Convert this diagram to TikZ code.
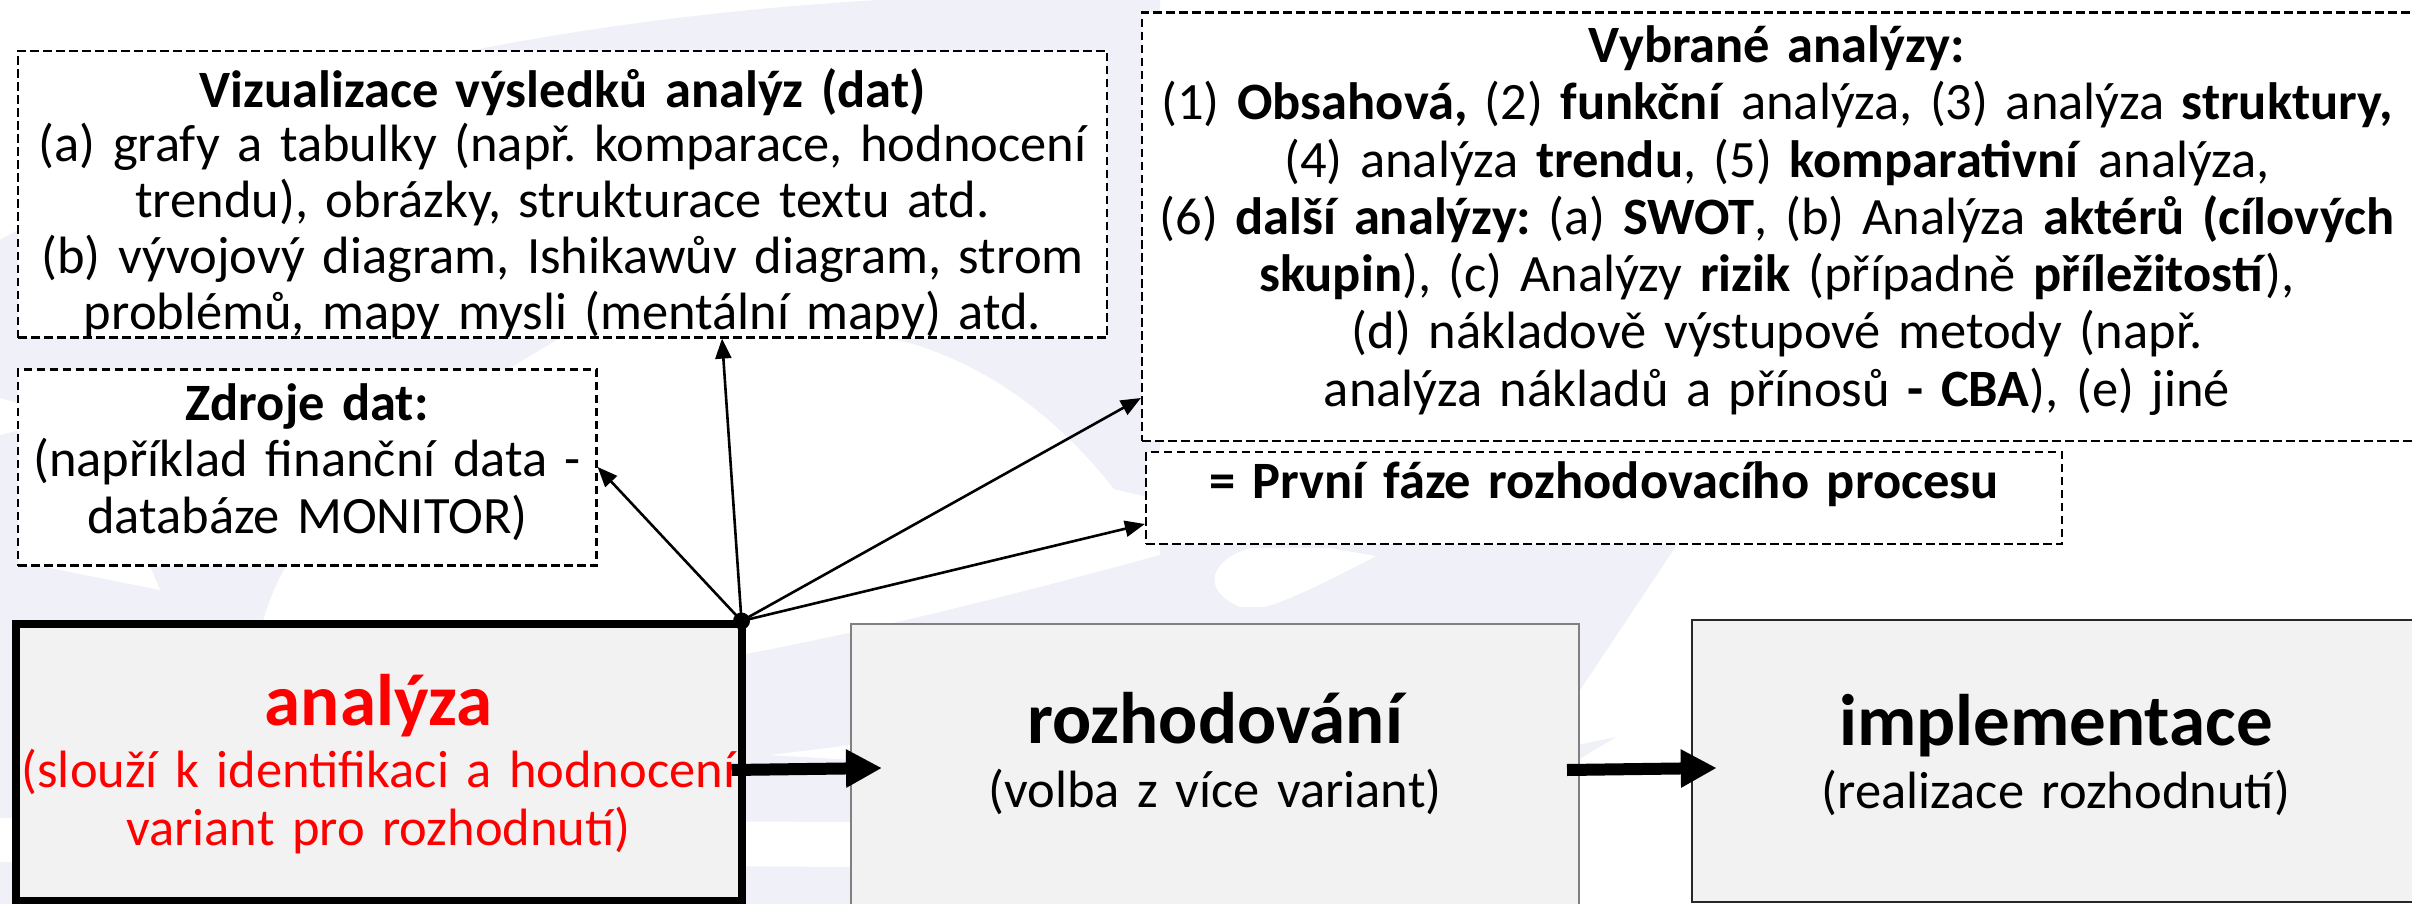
\documentclass[tikz,border=0pt]{standalone}
\usepackage{fontspec}
\setmainfont{Carlito}
\frenchspacing
\usetikzlibrary{arrows.meta,calc}
\definecolor{wm}{RGB}{239,240,248}
\definecolor{boxfill}{RGB}{242,242,242}
\definecolor{redtext}{RGB}{255,0,0}
\newcommand\smfont{\fontsize{52.5}{56.5}\selectfont\lineskiplimit=-100pt\relax}
\newcommand\smfontv{\fontsize{52.5}{56}\selectfont\lineskiplimit=-100pt\relax}
\newcommand\smfontb{\fontsize{52.5}{57.3}\selectfont\lineskiplimit=-100pt\relax}
\newcommand\smfontc{\fontsize{52.5}{58}\selectfont\lineskiplimit=-100pt\relax}
\newcommand\bigfnt{\fontsize{73}{80}\selectfont\bfseries}
\begin{document}
\begin{tikzpicture}[x=1pt,y=-1pt,
  dashbox/.style={draw=black, line width=2.2pt, dash pattern=on 8.5pt off 4.5pt, fill=white, rectangle, inner sep=0pt},
  solidbox/.style={rectangle, fill=boxfill, inner sep=0pt},
  txt/.style={text width=1400pt, align=center, anchor=base, inner sep=0pt},
  thinarr/.style={line width=2.6pt, -{Triangle[length=20pt,width=16pt]}},
  bigarr/.style={line width=12pt, -{Triangle[length=36pt,width=36pt]}},
]
\useasboundingbox (0,0) rectangle (2412,904);
\clip (0,0) rectangle (2412,904);
\fill[white] (0,0) rectangle (2412,904);
% faint watermark
\fill[wm] (469,51) .. controls (600,25) and (740,8) .. (880,0) -- (1160,0) -- (1160,500) -- (1114,489) .. controls (1060,420) and (990,365) .. (903,341) -- (880,338) -- (600,120) -- cycle;
\fill[wm] (741,655) .. controls (900,625) and (1050,585) .. (1160,555) -- (1160,540) -- (1680,540) -- (1560,720) -- (1560,904) -- (741,904) -- cycle;
\fill[wm] (0,240) -- (18,230) -- (560,338) .. controls (420,420) and (290,510) .. (262,625) -- (262,904) -- (0,904) -- cycle;
\fill[white] (770,755) -- (851,745) -- (851,760) -- cycle;
\fill[white] (0,818) -- (851,822) -- (851,867) -- (0,862) -- cycle;
\fill[white] (0,398) -- (70,418) -- (0,435) -- cycle;
\fill[white] (40,566) -- (160,590) -- (150,566) -- cycle;
\fill[white] (1240,607) .. controls (1200,590) and (1210,560) .. (1250,548) -- (1330,548) -- (1376,556) .. controls (1330,580) and (1290,600) .. (1265,607) -- cycle;
\fill[wm] (1578,745) -- (1616,737) -- (1578,760) -- cycle;

% boxes
\node[dashbox, minimum width=1089pt, minimum height=286.5pt] (viz) at (562.5,194.25) {};
\node[dashbox, minimum width=578.5pt, minimum height=196pt] (zdr) at (307.25,467.5) {};
\node[dashbox, minimum width=1271pt, minimum height=428.5pt] (vyb) at (1777.5,226.75) {};
\node[dashbox, minimum width=916pt, minimum height=92pt] (prv) at (1604,498) {};
\node[solidbox, draw=black, line width=8pt, minimum width=726pt, minimum height=277pt] (ana) at (378.5,762.5) {};
\node[solidbox, draw={rgb,255:red,128;green,128;blue,128}, line width=2pt, minimum width=728pt, minimum height=296pt] (roz) at (1215,772) {};
\node[solidbox, draw={rgb,255:red,40;green,40;blue,40}, line width=2.5pt, minimum width=728pt, minimum height=282pt] (imp) at (2056,761) {};

% texts
\node[txt, font=\smfont\bfseries] (viztitle) at (562.5,108) {Vizualizace výsledků analýz (dat)};
\node[txt, font=\smfontv] (viztxt) at (562.5,162) {(a) grafy a tabulky (např. komparace, hodnocení\\trendu), obrázky, strukturace textu atd.\\(b) vývojový diagram, Ishikawův diagram, strom\\problémů, mapy mysli (mentální mapy) atd.};
\node[txt, font=\smfont] (zdrtxt) at (307.25,420) {\textbf{Zdroje dat:}\\(například finanční data -\\databáze MONITOR)};
\node[txt, font=\smfontb] (vybtxt) at (1777,62.5) {\textbf{Vybrané analýzy:}\\(1) \textbf{Obsahová,} (2) \textbf{funkční} analýza, (3) analýza \textbf{struktury,}\\(4) analýza \textbf{trendu}, (5) \textbf{komparativní} analýza,\\(6) \textbf{další analýzy:} (a) \textbf{SWOT}, (b) Analýza \textbf{aktérů (cílových}\\\textbf{skupin}), (c) Analýzy \textbf{rizik} (případně \textbf{příležitostí}),\\(d) nákladově výstupové metody (např.\\analýza nákladů a přínosů \textbf{- CBA}), (e) jiné};
\node[txt, font=\smfont\bfseries] (prvtxt) at (1604,498) {= První fáze rozhodovacího procesu};
\node[txt, font=\bigfnt, text=redtext] (anatitle) at (378.5,725) {analýza};
\node[txt, font=\smfontc, text=redtext] (anasub) at (378.5,787) {(slouží k identifikaci a hodnocení\\variant pro rozhodnutí)};
\node[txt, font=\bigfnt] (roztitle) at (1215,743) {rozhodování};
\node[txt, font=\smfont] (rozsub) at (1215,807) {(volba z více variant)};
\node[txt, font=\bigfnt] (imptitle) at (2056,745) {implementace};
\node[txt, font=\smfont] (impsub) at (2056,808) {(realizace rozhodnutí)};

% connectors
\node[circle, fill=black, inner sep=0pt, minimum size=17pt] (hub) at (741.5,621) {};
\draw[thinarr] (hub.center) -- (zdr.east |- 0,467);
\draw[thinarr] (hub.center) -- (viz.south -| 722,0);
\draw[thinarr] (hub.center) -- (vyb.west |- 0,398);
\draw[thinarr] (hub.center) -- (prv.west |- 0,524);
\draw[bigarr] ($(ana.east |- 0,770)+(-14,0)$) -- ($(roz.west |- 0,768)+(32,0)$);
\draw[bigarr] ($(roz.east |- 0,770)+(-13,0)$) -- ($(imp.west |- 0,768)+(26,0)$);
\end{tikzpicture}
\end{document}
